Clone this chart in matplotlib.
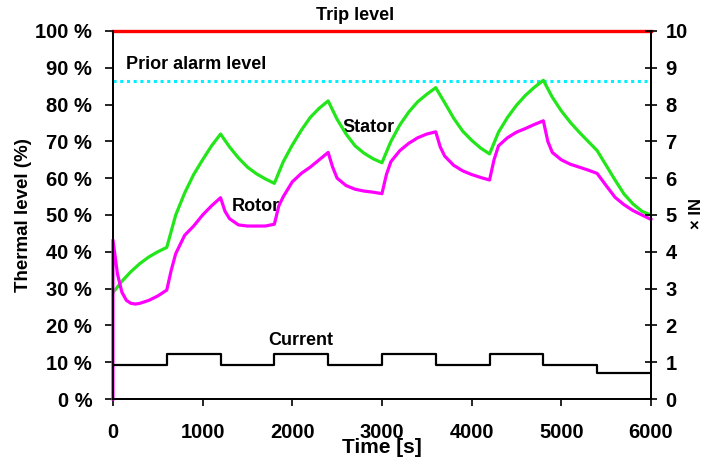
import matplotlib
matplotlib.use("Agg")
import matplotlib.pyplot as plt

plt.rcParams['font.family'] = ['Liberation Sans', 'DejaVu Sans']
plt.rcParams['font.weight'] = 'bold'

# ---- data ----
stator_t = [0, 100, 200, 300, 400, 500, 600, 700, 800, 900, 1000, 1100, 1200,
            1300, 1400, 1500, 1600, 1700, 1800, 1900, 2000, 2100, 2200, 2300, 2400,
            2500, 2600, 2700, 2800, 2900, 3000, 3100, 3200, 3300, 3400, 3500, 3600,
            3700, 3800, 3900, 4000, 4100, 4200, 4300, 4400, 4500, 4600, 4700, 4800,
            4900, 5000, 5100, 5200, 5300, 5400, 5500, 5600, 5700, 5800, 5900, 6000]
stator_v = [28.9, 32.0, 34.6, 36.8, 38.6, 40.0, 41.2, 50.0, 56.0, 61.0, 65.0, 68.8, 72.0,
            68.5, 65.5, 63.0, 61.2, 59.8, 58.6, 64.5, 69.0, 73.0, 76.5, 79.0, 81.0,
            76.0, 72.0, 68.8, 66.8, 65.3, 64.2, 70.0, 74.5, 78.0, 80.8, 82.8, 84.6,
            80.5, 76.3, 72.8, 70.3, 68.2, 66.6, 72.5, 76.5, 79.8, 82.5, 84.7, 86.6,
            82.0, 78.3, 75.2, 72.5, 70.0, 67.5, 63.5, 59.5, 55.7, 53.0, 51.0, 50.0]

rotor_t = [0, 0, 50, 100, 150, 200, 250, 300, 400, 500, 600, 650, 700, 800, 900, 1000,
           1100, 1200, 1250, 1300, 1400, 1500, 1600, 1700, 1800, 1850, 1900, 2000, 2100,
           2200, 2300, 2400, 2450, 2500, 2600, 2700, 2800, 2900, 3000, 3050, 3100, 3200,
           3300, 3400, 3500, 3600, 3650, 3700, 3800, 3900, 4000, 4100, 4200, 4250, 4300,
           4400, 4500, 4600, 4700, 4800, 4850, 4900, 5000, 5100, 5200, 5300, 5400, 5500,
           5600, 5700, 5800, 5900, 6000]
rotor_v = [0.0, 43.2, 34.0, 29.0, 26.8, 26.0, 25.8, 26.0, 26.8, 28.0, 29.6, 35.0, 39.5,
           44.5, 47.0, 50.0, 52.5, 54.7, 51.0, 49.0, 47.3, 47.0, 47.0, 47.0, 47.5, 52.5,
           55.0, 59.0, 61.3, 63.0, 65.0, 67.0, 63.0, 60.0, 58.0, 57.0, 56.5, 56.2, 55.8,
           61.0, 64.5, 67.5, 69.5, 71.0, 72.0, 72.6, 68.5, 66.0, 63.5, 62.0, 61.0, 60.2,
           59.5, 65.0, 68.8, 71.0, 72.5, 73.5, 74.6, 75.6, 70.0, 67.0, 65.0, 63.8, 63.0,
           62.2, 61.3, 58.0, 54.8, 52.8, 51.2, 50.0, 48.8]

current_t = [0, 600, 1200, 1800, 2400, 3000, 3600, 4200, 4800, 5400, 6000]
current_v = [0.93, 1.22, 0.93, 1.22, 0.93, 1.22, 0.93, 1.22, 0.93, 0.72, 0.72]

trip_level = 100.0
alarm_level = 86.4

x_ticks = [0, 1000, 2000, 3000, 4000, 5000, 6000]
y_ticks = [0, 10, 20, 30, 40, 50, 60, 70, 80, 90, 100]
y_tick_labels = [f"{v} %" for v in y_ticks]
y2_ticks = list(range(0, 11))

# ---- figure ----
fig = plt.figure(figsize=(7.06, 4.59), dpi=100)
ax = fig.add_axes([0.160, 0.1307, 0.762, 0.8018])
ax2 = ax.twinx()

ax.set_xlim(0, 6000)
ax.set_ylim(0, 100)
ax2.set_ylim(0, 10)

ax.axhline(trip_level, color='#ff0000', lw=2.4, zorder=3, clip_on=False)
ax.axhline(alarm_level, color='#00f0ff', lw=2.2, ls=(0, (1, 1.2)), zorder=3)
ax.plot(stator_t, stator_v, color='#22e61a', lw=2.3, zorder=4)
ax.plot(rotor_t, rotor_v, color='#ff00ff', lw=2.3, zorder=4, clip_on=False)
ax2.plot(current_t, current_v, color='black', lw=1.6, drawstyle='steps-post')

for a in (ax, ax2):
    a.spines['top'].set_visible(False)
    for s in a.spines.values():
        s.set_linewidth(1.3)

ax.set_xticks(x_ticks)
ax.set_xticklabels([str(v) for v in x_ticks])
ax.set_yticks(y_ticks)
ax.set_yticklabels(y_tick_labels)
ax2.set_yticks(y2_ticks)
ax2.set_yticklabels([str(v) for v in y2_ticks])

ax.tick_params(axis='x', direction='out', length=5, width=1.2, pad=12, labelsize=14.5)
ax.tick_params(axis='y', direction='out', length=6, width=1.2, pad=9, labelsize=14.5)
ax2.tick_params(axis='y', direction='inout', length=9, width=1.2, pad=6, labelsize=14.5)

ax.set_ylabel("Thermal level (%)", fontsize=13.5, fontweight='bold', labelpad=2)
fig.text(0.541, 0.024, "Time [s]", fontsize=15, fontweight='bold', ha='center', va='center')
fig.text(0.987, 0.535, "× IN", fontsize=12, fontweight='bold', rotation=90, ha='center', va='center')

ax.text(2700, 104.1, "Trip level", fontsize=13, fontweight='bold', ha='center', va='center')
ax.text(150, 90.9, "Prior alarm level", fontsize=13, fontweight='bold', ha='left', va='center')
ax.text(2565, 73.9, "Stator", fontsize=13, fontweight='bold', ha='left', va='center')
ax.text(1327, 52.2, "Rotor", fontsize=13, fontweight='bold', ha='left', va='center')
ax.text(1729, 16, "Current", fontsize=13, fontweight='bold', ha='left', va='center')

fig.savefig("out.png", dpi=100)
